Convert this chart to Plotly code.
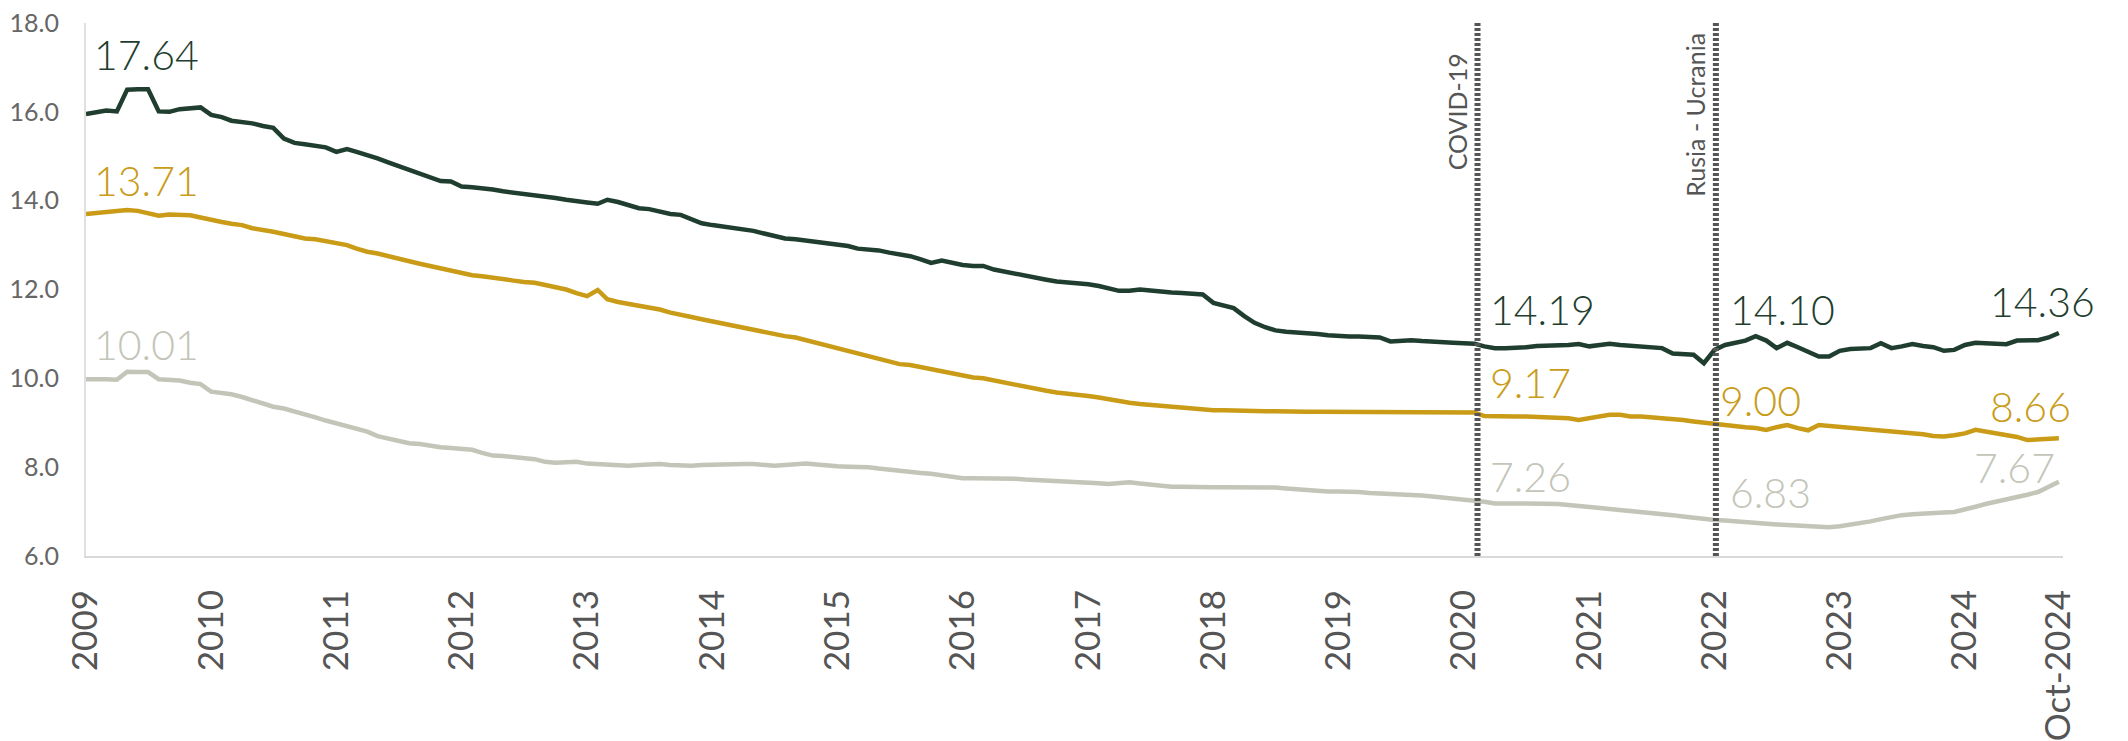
import plotly.graph_objects as go
import pandas as pd

# ---------------- data (monthly, Jan-2009 .. Oct-2024) ----------------
start_month = "2009-01-01"
n_months = 190

dark_series = [
    15.95, 15.98, 16.03, 16.01, 16.50, 16.51, 16.51, 16.01, 16.00, 16.06, 16.08, 16.10,
    15.93, 15.88, 15.80, 15.78, 15.74, 15.68, 15.64, 15.40, 15.30, 15.27, 15.24, 15.20,
    15.10, 15.16, 15.10, 15.03, 14.95, 14.86, 14.78, 14.69, 14.60, 14.52, 14.44, 14.43,
    14.32, 14.30, 14.28, 14.25, 14.21, 14.18, 14.16, 14.14, 14.10, 14.06, 14.02, 14.00,
    13.96, 13.93, 14.02, 13.97, 13.91, 13.83, 13.81, 13.75, 13.70, 13.68, 13.58, 13.49,
    13.45, 13.42, 13.40, 13.37, 13.32, 13.26, 13.20, 13.15, 13.13, 13.10, 13.09, 13.05,
    13.02, 12.98, 12.92, 12.90, 12.88, 12.83, 12.79, 12.75, 12.68, 12.60, 12.65, 12.60,
    12.55, 12.53, 12.53, 12.45, 12.40, 12.36, 12.31, 12.27, 12.22, 12.18, 12.16, 12.16,
    12.12, 12.08, 12.03, 11.97, 11.97, 12.00, 11.98, 11.95, 11.93, 11.92, 11.90, 11.89,
    11.70, 11.65, 11.58, 11.40, 11.25, 11.15, 11.08, 11.05, 11.04, 11.03, 11.00, 10.97,
    10.95, 10.94, 10.94, 10.93, 10.92, 10.83, 10.84, 10.86, 10.84, 10.82, 10.80, 10.80,
    10.79, 10.78, 10.72, 10.68, 10.68, 10.68, 10.70, 10.73, 10.73, 10.73, 10.75, 10.77,
    10.72, 10.75, 10.78, 10.75, 10.73, 10.72, 10.70, 10.68, 10.56, 10.55, 10.53, 10.34,
    10.64, 10.75, 10.80, 10.85, 10.95, 10.85, 10.68, 10.80, 10.70, 10.60, 10.49, 10.49,
    10.62, 10.66, 10.68, 10.68, 10.79, 10.68, 10.72, 10.77, 10.73, 10.70, 10.62, 10.64,
    10.75, 10.80, 10.79, 10.78, 10.77, 10.85, 10.86, 10.86, 10.92, 11.02,
]

gold_series = [
    13.70, 13.72, 13.73, 13.76, 13.79, 13.77, 13.72, 13.66, 13.69, 13.68, 13.67, 13.62,
    13.56, 13.52, 13.48, 13.45, 13.38, 13.35, 13.30, 13.25, 13.20, 13.15, 13.13, 13.08,
    13.04, 13.00, 12.92, 12.85, 12.81, 12.75, 12.68, 12.64, 12.58, 12.53, 12.48, 12.42,
    12.38, 12.32, 12.30, 12.26, 12.22, 12.20, 12.17, 12.15, 12.10, 12.05, 12.00, 11.92,
    11.85, 11.99, 11.78, 11.72, 11.68, 11.62, 11.58, 11.55, 11.48, 11.42, 11.38, 11.33,
    11.28, 11.24, 11.20, 11.16, 11.10, 11.05, 11.00, 10.95, 10.92, 10.86, 10.80, 10.74,
    10.68, 10.62, 10.56, 10.52, 10.45, 10.38, 10.32, 10.30, 10.25, 10.20, 10.15, 10.10,
    10.06, 10.02, 10.00, 9.95, 9.90, 9.85, 9.80, 9.76, 9.72, 9.68, 9.66, 9.62,
    9.60, 9.57, 9.53, 9.48, 9.45, 9.42, 9.40, 9.37, 9.35, 9.34, 9.32, 9.30,
    9.28, 9.28, 9.27, 9.27, 9.27, 9.26, 9.26, 9.25, 9.25, 9.25, 9.25, 9.25,
    9.25, 9.25, 9.25, 9.25, 9.25, 9.25, 9.25, 9.25, 9.24, 9.23, 9.23, 9.23,
    9.23, 9.23, 9.15, 9.14, 9.14, 9.14, 9.14, 9.13, 9.13, 9.12, 9.10, 9.06,
    9.10, 9.12, 9.18, 9.18, 9.14, 9.14, 9.12, 9.12, 9.10, 9.06, 9.03, 9.00,
    8.97, 8.95, 8.93, 8.90, 8.88, 8.84, 8.90, 8.95, 8.88, 8.83, 8.95, 8.93,
    8.92, 8.90, 8.88, 8.86, 8.82, 8.80, 8.78, 8.76, 8.74, 8.70, 8.69, 8.72,
    8.76, 8.84, 8.80, 8.77, 8.72, 8.68, 8.61, 8.63, 8.64, 8.65,
]

gray_series = [
    9.98, 9.99, 9.98, 9.97, 10.15, 10.14, 10.14, 9.98, 9.96, 9.95, 9.90, 9.87,
    9.70, 9.68, 9.64, 9.58, 9.50, 9.42, 9.36, 9.32, 9.26, 9.19, 9.12, 9.05,
    8.99, 8.94, 8.88, 8.80, 8.70, 8.64, 8.58, 8.54, 8.52, 8.48, 8.45, 8.43,
    8.41, 8.39, 8.32, 8.26, 8.25, 8.23, 8.22, 8.18, 8.12, 8.10, 8.11, 8.12,
    8.08, 8.07, 8.05, 8.04, 8.03, 8.05, 8.06, 8.07, 8.05, 8.04, 8.03, 8.05,
    8.06, 8.07, 8.07, 8.07, 8.07, 8.05, 8.03, 8.05, 8.07, 8.08, 8.06, 8.03,
    8.02, 8.01, 8.01, 8.00, 7.97, 7.94, 7.92, 7.90, 7.87, 7.85, 7.82, 7.79,
    7.75, 7.75, 7.75, 7.75, 7.75, 7.74, 7.72, 7.71, 7.70, 7.70, 7.69, 7.68,
    7.66, 7.64, 7.62, 7.63, 7.66, 7.63, 7.60, 7.58, 7.56, 7.56, 7.55, 7.55,
    7.55, 7.55, 7.55, 7.55, 7.55, 7.55, 7.54, 7.52, 7.50, 7.48, 7.46, 7.45,
    7.45, 7.45, 7.44, 7.42, 7.41, 7.40, 7.40, 7.38, 7.36, 7.34, 7.32, 7.30,
    7.28, 7.26, 7.22, 7.18, 7.17, 7.18, 7.18, 7.18, 7.18, 7.17, 7.15, 7.12,
    7.10, 7.08, 7.06, 7.04, 7.02, 7.00, 6.98, 6.95, 6.92, 6.89, 6.86, 6.83,
    6.81, 6.80, 6.78, 6.76, 6.74, 6.72, 6.71, 6.70, 6.69, 6.68, 6.66, 6.65,
    6.67, 6.70, 6.74, 6.78, 6.83, 6.88, 6.92, 6.94, 6.96, 6.97, 6.98, 6.99,
    7.04, 7.11, 7.17, 7.22, 7.26, 7.32, 7.38, 7.44, 7.55, 7.67,
]

tick_dates = [f"{y}-01-01" for y in range(2009, 2025)] + ["2024-10-01"]
tick_labels = [str(y) for y in range(2009, 2025)] + ["Oct-2024"]

event_dates = ["2020-02-10", "2022-01-05"]
event_names = ["COVID-19", "Rusia - Ucrania"]
event_label_y = [16.0, 15.93]

# value labels
dark_labels = ["17.64", "14.19", "14.10", "14.36"]
gold_labels = ["13.71", "9.17", "9.00", "8.66"]
gray_labels = ["10.01", "7.26", "6.83", "7.67"]
label_dates = ["2009-01-01", event_dates[0], event_dates[1], "2024-10-01"]
dark_label_y = [17.30, 11.56, 11.54, 11.72]
gold_label_y = [14.45, 9.90, 9.51, 9.36]
gray_label_y = [10.77, 7.78, 7.42, 8.00]

# ---------------- figure ----------------
dates = pd.date_range(start_month, periods=n_months, freq="MS")

DARK = "#1f3e2f"
GOLD = "#c99b17"
GRAY = "#c3c5b8"
FONT = "Lato"
W = 300

fig = go.Figure()
for vals, col in [(gray_series, GRAY), (gold_series, GOLD), (dark_series, DARK)]:
    fig.add_trace(go.Scatter(x=dates, y=vals, mode="lines",
                             line=dict(color=col, width=4.5), showlegend=False,
                             hoverinfo="skip"))

for d in event_dates:
    fig.add_trace(go.Scatter(x=[d, d], y=[6, 18], mode="lines",
                             line=dict(color="#555555", width=6, dash="3px,2px"),
                             showlegend=False, hoverinfo="skip"))

ann = []
for d, name, yy in zip(event_dates, event_names, event_label_y):
    ann.append(dict(x=d, y=yy, text=name, textangle=-90, showarrow=False,
                    xanchor="right", yanchor="middle", xshift=-4,
                    font=dict(family=FONT, size=25, color="#555555", weight=400)))

for texts, ys, col in [(dark_labels, dark_label_y, DARK),
                       (gold_labels, gold_label_y, GOLD),
                       (gray_labels, gray_label_y, GRAY)]:
    for i, (t, d, yy) in enumerate(zip(texts, label_dates, ys)):
        if i < 3:
            xa, xs = "left", [6, 10, 12][i]
        else:
            xa = "right"
            xs = {DARK: 38, GOLD: 14, GRAY: -2}[col]
        if col == GOLD and i == 2:
            xs = 2
        ann.append(dict(x=d, y=yy, text=t, showarrow=False, xanchor=xa,
                        yanchor="middle", xshift=xs,
                        font=dict(family=FONT, size=41, color=col, weight=W)))

fig.update_layout(
    width=2120, height=733,
    margin=dict(l=78, r=65, t=15, b=185, autoexpand=False),
    paper_bgcolor="white", plot_bgcolor="white",
    font=dict(family=FONT, weight=W),
    annotations=ann,
    xaxis=dict(type="date", range=["2009-01-01", "2024-10-13"], automargin=False,
               tickmode="array", tickvals=tick_dates, ticktext=tick_labels,
               tickangle=-90, showgrid=False, zeroline=False,
               showline=True, linecolor="#d9d9d9", linewidth=2,
               ticks="", ticklabelstandoff=18, ticklabeloverflow="allow",
               tickfont=dict(family=FONT, size=35, color="#555555", weight=400)),
    yaxis=dict(range=[6, 18], tickvals=[6, 8, 10, 12, 14, 16, 18], automargin=False,
               tickformat=".1f", showgrid=False, zeroline=False,
               showline=True, linecolor="#e0e0e0", linewidth=2,
               ticks="", ticklabelstandoff=20, ticklabeloverflow="allow",
               tickfont=dict(family=FONT, size=25, color="#666666", weight=400)),
)

fig.write_html("out.html")
